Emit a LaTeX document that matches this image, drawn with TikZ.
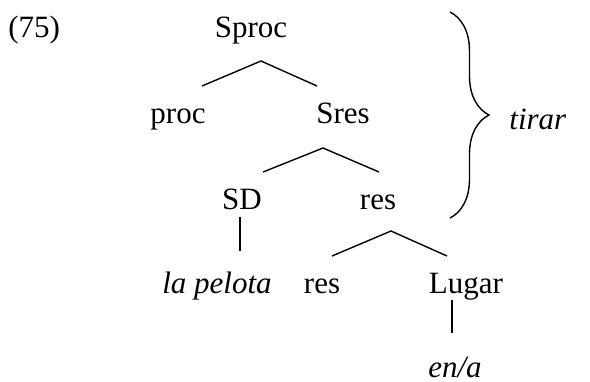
\documentclass[tikz,border=0pt]{standalone}
\usepackage{fontspec}
\setmainfont{Liberation Serif}
\usetikzlibrary{decorations.pathreplacing}

\begin{document}
\begin{tikzpicture}[
    x=0.5pt, y=-0.5pt,
    cat/.style={inner sep=0pt, anchor=base, font=\fontsize{15.5}{18}\selectfont},
    word/.style={cat, font=\fontsize{15.5}{18}\selectfont\itshape},
    branch/.style={line width=0.7pt}
]
\useasboundingbox (0,0) rectangle (590,381);

\node[cat, anchor=base west] (ex) at (8,37) {(75)};
\node[cat] (sproc) at (251,37) {Sproc};
\node[cat] (proc) at (178,123) {proc};
\node[cat] (sres) at (343,123) {Sres};
\node[cat] (sd) at (242,209) {SD};
\node[cat] (res1) at (378,209) {res};
\node[word] (pelota) at (217,293) {la pelota};
\node[cat] (res2) at (322,293) {res};
\node[cat] (lugar) at (466,293) {Lugar};
\node[word] (ena) at (455,377) {en/a};
\node[word, anchor=base west] (tirar) at (509,129) {tirar};

\coordinate (sprocA) at (261,61);
\coordinate (sprocL) at (202,86);
\coordinate (sprocR) at (317,86);
\coordinate (sresA) at (323,148);
\coordinate (sresL) at (263,172);
\coordinate (sresR) at (379,172);
\coordinate (resA) at (391,231);
\coordinate (resL) at (332,256);
\coordinate (resR) at (447,256);
\coordinate (sdT) at (240,217);
\coordinate (sdB) at (240,251);
\coordinate (lugarT) at (452,300);
\coordinate (lugarB) at (452,333);
\coordinate (braceT) at (450,12);
\coordinate (braceB) at (450,218);

\draw[branch] (sprocL) -- (sprocA) -- (sprocR);
\draw[branch] (sresL) -- (sresA) -- (sresR);
\draw[branch] (resL) -- (resA) -- (resR);
\draw[branch] (sdT) -- (sdB);
\draw[branch] (lugarT) -- (lugarB);

\draw[line width=0.7pt, decorate, decoration={brace, amplitude=19.5pt}] (braceT) -- (braceB);
\end{tikzpicture}
\end{document}
